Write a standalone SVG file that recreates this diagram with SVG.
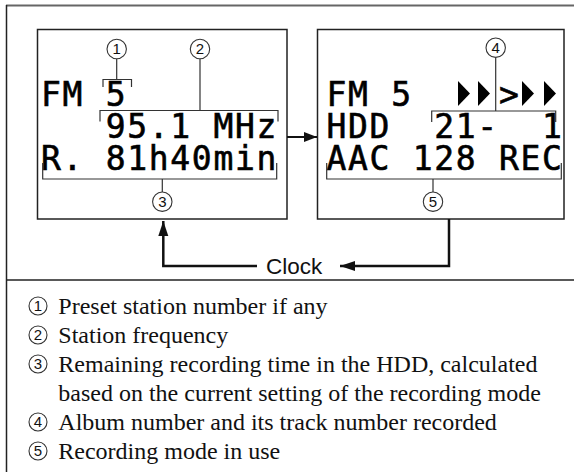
<svg xmlns="http://www.w3.org/2000/svg" width="574" height="472" viewBox="0 0 574 472">
<style>
.lcd{font-family:"DejaVu Sans Mono","Liberation Mono",monospace;font-size:33px;letter-spacing:1.68px;fill:#000;stroke:#000;stroke-width:0.6}
.box{fill:#fff;stroke:#222;stroke-width:1.5}
.br{fill:none;stroke:#333;stroke-width:1.2}
.cc{fill:#fff;stroke:#333;stroke-width:1.1}
.cd{font-family:"Liberation Sans",Arial,sans-serif;font-size:15px;text-anchor:middle;fill:#111}
.lg{font-family:"Liberation Serif","Times New Roman",serif;font-size:24px;fill:#111}
.flow{fill:none;stroke:#111;stroke-width:2.5}
.clock{font-family:"Liberation Sans",Arial,sans-serif;font-size:22.5px;fill:#111}
</style>
<defs>
<marker id="ah" markerWidth="16" markerHeight="12" refX="15" refY="5" orient="auto" markerUnits="userSpaceOnUse">
<path d="M0,0 L15,5 L0,10 Z" fill="#111"/>
</marker>
<marker id="ahs" markerWidth="14" markerHeight="12" refX="13" refY="5" orient="auto" markerUnits="userSpaceOnUse">
<path d="M0,0 L13,5 L0,10 Z" fill="#111"/>
</marker>
</defs>
<!-- frame -->
<line x1="6" y1="5.5" x2="574" y2="5.5" stroke="#666" stroke-width="2"/>
<line x1="6.5" y1="5" x2="6.5" y2="472" stroke="#222" stroke-width="1.5"/>
<line x1="6" y1="280" x2="574" y2="280" stroke="#222" stroke-width="1.5"/>

<g id="display-radio">
<rect class="box" x="37.5" y="29.5" width="249.5" height="189.5"/>
<text class="lcd" x="41" y="106">FM</text>
<text class="lcd" x="105.65" y="106">5</text>
<text class="lcd" x="105.65" y="137.5">95.1</text>
<text class="lcd" x="213.4" y="137.5">MHz</text>
<text class="lcd" x="41" y="169.5">R.</text>
<text class="lcd" x="105.65" y="169.5">81h40min</text>
<!-- callout 1 -->
<path class="br" d="M103,87 V79.5 H131.5 V87 M116.7,79.5 V59"/>
<circle class="cc" cx="116.7" cy="49" r="9.7"/>
<text class="cd" x="116.7" y="54.3">1</text>
<!-- callout 2 -->
<path class="br" d="M100,121.5 V110.5 H278 V121.5 M200,110.5 V59"/>
<circle class="cc" cx="200" cy="49" r="9.7"/>
<text class="cd" x="200" y="54.3">2</text>
<!-- callout 3 -->
<path class="br" d="M42.7,163 V179 H276.7 V163 M162.3,179 V192"/>
<circle class="cc" cx="162.3" cy="201.7" r="9.7"/>
<text class="cd" x="162.3" y="207">3</text>
</g>

<g id="display-recording">
<rect class="box" x="317.5" y="29.5" width="246.5" height="189.5"/>
<text class="lcd" x="326.5" y="106">FM</text>
<text class="lcd" x="391.15" y="106">5</text>
<polygon points="458,81 458,106 470,93.5" fill="#000"/>
<polygon points="478,81 478,106 490,93.5" fill="#000"/>
<text class="lcd" x="498.9" y="106">&gt;</text>
<polygon points="522,81 522,106 534,93.5" fill="#000"/>
<polygon points="544,81 544,106 556,93.5" fill="#000"/>
<text class="lcd" x="326.5" y="137.5">HDD</text>
<text class="lcd" x="434.25" y="137.5">21-</text>
<text class="lcd" x="542" y="137.5">1</text>
<text class="lcd" x="326.5" y="169.5">AAC</text>
<text class="lcd" x="412.7" y="169.5">128</text>
<text class="lcd" x="498.9" y="169.5">REC</text>
<!-- callout 4 -->
<path class="br" d="M431.7,122 V111 H555.7 V122 M495.7,111 V57.5"/>
<circle class="cc" cx="495.7" cy="47.7" r="9.7"/>
<text class="cd" x="495.7" y="53">4</text>
<!-- callout 5 -->
<path class="br" d="M326.7,163 V179 H561.3 V163 M433,179 V192"/>
<circle class="cc" cx="433" cy="201.7" r="9.7"/>
<text class="cd" x="433" y="207">5</text>
</g>

<g id="connectors">
<line x1="287" y1="137" x2="317" y2="137" stroke="#111" stroke-width="2" marker-end="url(#ahs)"/>
<polyline class="flow" points="449,219 449,266 340,266" marker-end="url(#ah)"/>
<polyline class="flow" points="257,266 163.3,266 163.3,221" marker-end="url(#ah)"/>
<text class="clock" x="266" y="274">Clock</text>
</g>

<g id="legend">
<circle class="cc" cx="38" cy="306" r="9"/><text class="cd" x="38" y="311.3">1</text>
<text class="lg" x="58.3" y="313.5">Preset station number if any</text>
<circle class="cc" cx="38" cy="335" r="9"/><text class="cd" x="38" y="340.3">2</text>
<text class="lg" x="58.3" y="342.5">Station frequency</text>
<circle class="cc" cx="38" cy="364" r="9"/><text class="cd" x="38" y="369.3">3</text>
<text class="lg" x="58.3" y="371.5">Remaining recording time in the HDD, calculated</text>
<text class="lg" x="58.3" y="400.5">based on the current setting of the recording mode</text>
<circle class="cc" cx="38" cy="422" r="9"/><text class="cd" x="38" y="427.3">4</text>
<text class="lg" x="58.3" y="429.5">Album number and its track number recorded</text>
<circle class="cc" cx="38" cy="451" r="9"/><text class="cd" x="38" y="456.3">5</text>
<text class="lg" x="58.3" y="458.5">Recording mode in use</text>
</g>
</svg>
